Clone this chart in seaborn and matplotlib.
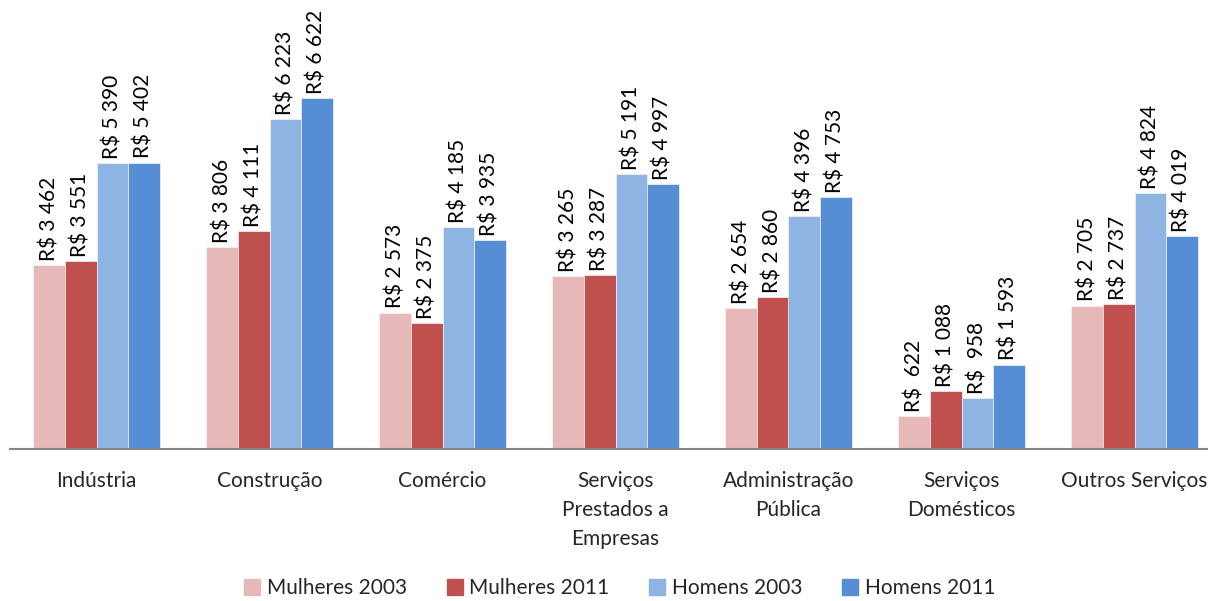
import matplotlib
matplotlib.use("Agg")
import matplotlib.pyplot as plt
from matplotlib.lines import Line2D
from matplotlib.ticker import FixedLocator
import seaborn as sns
import pandas as pd

categories = ["Indústria", "Construção", "Comércio", "Serviços\nPrestados a\nEmpresas",
              "Administração\nPública", "Serviços\nDomésticos", "Outros Serviços"]
series = ["Mulheres 2003", "Mulheres 2011", "Homens 2003", "Homens 2011"]
mulheres_2003 = [3462, 3806, 2573, 3265, 2654, 622, 2705]
mulheres_2011 = [3551, 4111, 2375, 3287, 2860, 1088, 2737]
homens_2003 = [5390, 6223, 4185, 5191, 4396, 958, 4824]
homens_2011 = [5402, 6622, 3935, 4997, 4753, 1593, 4019]
colors = ["#E6B9B8", "#C0504D", "#8EB4E3", "#558ED5"]

values = [mulheres_2003, mulheres_2011, homens_2003, homens_2011]
df = pd.DataFrame({
    "setor": [c for s in series for c in categories],
    "grupo": [s for s in series for _ in categories],
    "valor": [v for vals in values for v in vals],
})

sns.set_style("white")
plt.rcParams["font.family"] = ["Lato", "DejaVu Sans"]

W, H = 1208, 601
fig = plt.figure(figsize=(W / 100, H / 100), dpi=100)
ax = fig.add_axes([10 / W, 152 / H, 1211 / W, 449 / H])

sns.barplot(data=df, x="setor", y="valor", hue="grupo", order=categories,
            hue_order=series, palette=colors, saturation=1, width=0.73, ax=ax,
            edgecolor="#F4F4F4", linewidth=0.5, legend=False)

ax.set_xlim(-0.5, len(categories) - 0.5)
ax.set_ylim(0, 8470)


def fmt(v):
    th, rest = divmod(v, 1000)
    return f"R$ {th} {rest:03d}" if th else f"R$  {rest}"


for cont in ax.containers:
    for bar in cont:
        h = bar.get_height()
        ax.annotate(fmt(int(round(h))), (bar.get_x() + bar.get_width() / 2, h),
                    xytext=(0, 3), textcoords="offset points", rotation=90,
                    ha="center", va="bottom", fontsize=15, color="#000000")

for s in ["top", "right", "left"]:
    ax.spines[s].set_visible(False)
ax.spines["bottom"].set_color("#868686")
ax.spines["bottom"].set_linewidth(1.5)
ax.set_yticks([])
ax.set_xlabel("")
ax.set_ylabel("")
ax.set_xticks(range(len(categories)))
ax.set_xticklabels(categories, fontsize=15, linespacing=1.55, va="top")
ax.tick_params(axis="x", which="major", length=0, pad=16)
ax.xaxis.set_minor_locator(FixedLocator([i - 0.5 for i in range(len(categories) + 1)]))
ax.tick_params(axis="x", which="minor", length=8, width=1.5, color="#868686", direction="out")

handles = [Line2D([0], [0], marker="s", linestyle="", markersize=11,
                  markerfacecolor=c, markeredgecolor=c) for c in colors]
fig.legend(handles, series, loc="lower center", bbox_to_anchor=(0.513, -0.026), ncol=4,
           frameon=False, fontsize=15, handlelength=0.8, handletextpad=0.3,
           columnspacing=1.9)

fig.savefig("out.png", dpi=100)
